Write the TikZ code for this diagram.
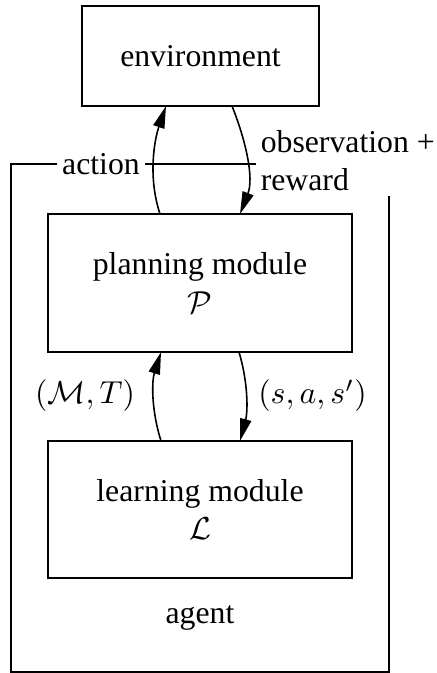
\documentclass[tikz,border=0pt]{standalone}
\usepackage[no-math]{fontspec}
\setmainfont{Liberation Serif}
\usetikzlibrary{arrows.meta,calc}
\begin{document}
\begin{tikzpicture}[x=0.315pt,y=-0.315pt,
  box/.style={draw,line width=0.6pt,outer sep=0pt,align=center},
  lbl/.style={inner sep=1.3pt},
  flow/.style={line width=0.5pt,-{Triangle[length=7pt,width=3.6pt]}},
  frame/.style={line width=0.6pt}]
\useasboundingbox (0,0) rectangle (436,673);
\node[box,minimum width=74.7pt,minimum height=31.5pt] (env) at (200.5,56) {environment};
\node[box,minimum width=95.8pt,minimum height=43.5pt] (plan) at (200,283) {planning module\\$\mathcal{P}$};
\node[box,minimum width=95.8pt,minimum height=43.2pt] (learn) at (200,509.5) {learning module\\$\mathcal{L}$};
\node[lbl] (action) at (101,164) {action};
\node[lbl,align=left,anchor=west] (obs) at (256,161) {observation +\\reward};
\node[lbl] (mt) at (85,396) {$(\mathcal{M},T)$};
\node[lbl] (sas) at (312.5,396) {$(s,a,s')$};
\node[lbl] (agent) at (200,618) {agent};
\coordinate (bl) at (11,672);
\coordinate (br) at (389,672);
% agent frame
\draw[frame] (action.west) -| (bl) -- (br) -- (br |- obs.south);
\draw[frame] (action.east) -- (action.east -| obs.west);
% arrows between environment and planning
\draw[flow] ($(plan.north)+(-40,0)$) .. controls (148,178) and (154,141) .. ($(env.south)+(-34.5,0)$);
\draw[flow] ($(env.south)+(31.5,0)$) .. controls (246,141) and (254,178) .. ($(plan.north)+(40,0)$);
% arrows between planning and learning
\draw[flow] ($(learn.north)+(-39,0)$) .. controls (151.5,411) and (151.5,382) .. ($(plan.south)+(-39,0)$);
\draw[flow] ($(plan.south)+(39,0)$) .. controls (248,382) and (248,411) .. ($(learn.north)+(40,0)$);
\end{tikzpicture}
\end{document}
